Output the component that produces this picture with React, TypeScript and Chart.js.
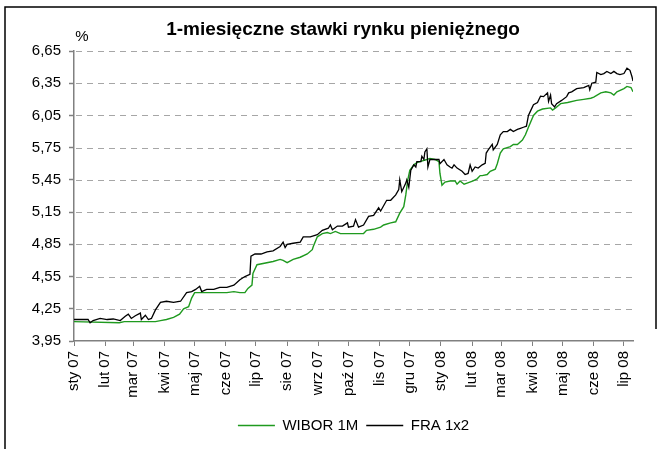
import { useEffect, useRef } from 'react';
import { Chart, registerables } from 'chart.js';

Chart.register(...registerables);

// Month start positions (days since 2007-01-01) and their labels
const monthDays = [0, 31, 59, 90, 120, 151, 181, 212, 243, 273, 304, 334, 365, 396, 425, 456, 486, 517, 547];
const monthLabels = ['sty 07', 'lut 07', 'mar 07', 'kwi 07', 'maj 07', 'cze 07', 'lip 07', 'sie 07', 'wrz 07', 'paź 07', 'lis 07', 'gru 07', 'sty 08', 'lut 08', 'mar 08', 'kwi 08', 'maj 08', 'cze 08', 'lip 08'];
const yTicks = [3.95, 4.25, 4.55, 4.85, 5.15, 5.45, 5.75, 6.05, 6.35, 6.65];

// WIBOR 1M (days since 2007-01-01, %)
const wiborDays = [0, 45, 50, 81, 86, 92, 99, 105, 109, 114, 117, 120, 139, 152, 159, 165, 170, 173, 177, 178, 182, 198, 205, 208, 212, 218, 225, 232, 237, 238, 242, 247, 252, 255, 260, 265, 281, 288, 291, 298, 305, 308, 315, 320, 324, 328, 330, 332, 334, 338, 341, 344, 351, 354, 359, 363, 364, 366, 369, 374, 379, 381, 384, 388, 391, 397, 401, 404, 406, 411, 414, 419, 421, 424, 427, 434, 437, 441, 446, 449, 452, 457, 461, 466, 474, 476, 479, 484, 491, 500, 507, 514, 517, 524, 529, 534, 537, 540, 547, 550, 554, 556];
const wiborVals = [4.13, 4.12, 4.13, 4.13, 4.14, 4.15, 4.17, 4.20, 4.25, 4.27, 4.35, 4.40, 4.40, 4.40, 4.41, 4.40, 4.40, 4.44, 4.47, 4.58, 4.66, 4.69, 4.71, 4.70, 4.68, 4.71, 4.73, 4.76, 4.80, 4.83, 4.92, 4.95, 4.96, 4.95, 4.97, 4.95, 4.95, 4.95, 4.98, 4.99, 5.01, 5.03, 5.05, 5.06, 5.14, 5.20, 5.31, 5.45, 5.54, 5.59, 5.61, 5.62, 5.64, 5.65, 5.64, 5.62, 5.51, 5.40, 5.43, 5.44, 5.44, 5.41, 5.44, 5.41, 5.42, 5.44, 5.46, 5.49, 5.49, 5.50, 5.53, 5.55, 5.60, 5.70, 5.74, 5.76, 5.78, 5.78, 5.82, 5.87, 5.94, 6.05, 6.09, 6.11, 6.12, 6.10, 6.12, 6.16, 6.17, 6.19, 6.20, 6.21, 6.22, 6.26, 6.27, 6.26, 6.24, 6.27, 6.30, 6.32, 6.31, 6.27];

// FRA 1x2 (days since 2007-01-01, %)
const fraDays = [0, 14, 16, 19, 26, 33, 39, 46, 51, 54, 57, 61, 66, 67, 71, 74, 77, 81, 86, 92, 99, 106, 112, 117, 121, 125, 127, 132, 139, 145, 152, 159, 165, 170, 175, 176, 180, 186, 192, 198, 205, 208, 210, 212, 218, 225, 228, 235, 242, 247, 253, 255, 257, 262, 267, 272, 273, 278, 280, 283, 288, 293, 298, 303, 305, 311, 315, 320, 323, 324, 326, 330, 331, 333, 335, 338, 340, 341, 345, 346, 348, 349, 351, 352, 354, 358, 363, 364, 368, 371, 374, 376, 378, 381, 386, 389, 392, 394, 396, 399, 402, 406, 409, 410, 412, 416, 417, 421, 424, 427, 431, 434, 437, 441, 444, 447, 450, 452, 454, 457, 461, 464, 467, 471, 472, 474, 475, 478, 480, 485, 490, 492, 495, 500, 507, 512, 513, 515, 519, 520, 524, 527, 530, 534, 537, 540, 543, 547, 550, 553, 555, 556];
const fraVals = [4.15, 4.15, 4.12, 4.14, 4.16, 4.15, 4.155, 4.14, 4.18, 4.20, 4.16, 4.185, 4.21, 4.15, 4.19, 4.15, 4.16, 4.24, 4.31, 4.32, 4.31, 4.32, 4.40, 4.41, 4.43, 4.46, 4.41, 4.43, 4.43, 4.45, 4.45, 4.47, 4.52, 4.55, 4.57, 4.74, 4.76, 4.76, 4.78, 4.79, 4.83, 4.87, 4.82, 4.85, 4.86, 4.87, 4.92, 4.92, 4.94, 4.98, 5.00, 5.03, 4.985, 5.02, 5.02, 5.05, 5.01, 5.02, 5.08, 5.01, 5.03, 5.11, 5.12, 5.19, 5.16, 5.26, 5.26, 5.31, 5.36, 5.45, 5.34, 5.42, 5.45, 5.38, 5.54, 5.59, 5.57, 5.62, 5.62, 5.67, 5.64, 5.71, 5.74, 5.57, 5.64, 5.64, 5.64, 5.60, 5.64, 5.59, 5.57, 5.56, 5.59, 5.56, 5.53, 5.50, 5.51, 5.59, 5.53, 5.57, 5.56, 5.59, 5.605, 5.70, 5.73, 5.78, 5.73, 5.78, 5.87, 5.90, 5.90, 5.92, 5.90, 5.92, 5.93, 5.94, 5.95, 6.05, 6.09, 6.15, 6.17, 6.23, 6.225, 6.26, 6.18, 6.24, 6.16, 6.13, 6.16, 6.19, 6.225, 6.26, 6.27, 6.30, 6.31, 6.33, 6.29, 6.35, 6.36, 6.45, 6.43, 6.44, 6.46, 6.44, 6.46, 6.44, 6.43, 6.44, 6.49, 6.47, 6.41, 6.37];

const TITLE = '1-miesięczne stawki rynku pieniężnego';
const FONT = "'Liberation Sans', Arial, sans-serif";

const decorPlugin = {
  id: 'decor',
  beforeDraw(chart: any) {
    const ctx = chart.ctx;
    ctx.save();
    ctx.fillStyle = '#ffffff';
    ctx.fillRect(0, 0, chart.width, chart.height);
    ctx.strokeStyle = '#000000';
    ctx.lineWidth = 1.5;
    ctx.beginPath();
    ctx.moveTo(5, 449);
    ctx.lineTo(5, 7);
    ctx.lineTo(656, 7);
    ctx.lineTo(656, 329);
    ctx.stroke();
    ctx.restore();
  },
  beforeDatasetsDraw(chart: any) {
    // dashed horizontal grid lines at the y-axis ticks
    const ctx = chart.ctx;
    const ys = chart.scales.y;
    const area = chart.chartArea;
    ctx.save();
    ctx.strokeStyle = '#a6a6a6';
    ctx.lineWidth = 1;
    ctx.setLineDash([6, 5]);
    yTicks.forEach((v) => {
      if (v === ys.min) return;
      const y = Math.round(ys.getPixelForValue(v)) + 0.5;
      ctx.beginPath();
      ctx.moveTo(area.left + 2, y);
      ctx.lineTo(area.right, y);
      ctx.stroke();
    });
    ctx.restore();
  },
  afterDraw(chart: any) {
    const ctx = chart.ctx;
    ctx.save();
    ctx.fillStyle = '#000000';
    ctx.textAlign = 'center';
    ctx.textBaseline = 'middle';
    ctx.font = `bold 19px ${FONT}`;
    ctx.fillText(TITLE, 343, 30);
    ctx.font = `15px ${FONT}`;
    ctx.fillText('%', 82, 37);
    ctx.restore();
  },
};

export default function App() {
  const ref = useRef<HTMLCanvasElement>(null);
  useEffect(() => {
    if (!ref.current) return;
    const chart = new Chart(ref.current, {
      type: 'line',
      data: {
        datasets: [
          {
            label: 'WIBOR 1M',
            data: wiborDays.map((d, i) => ({ x: d, y: wiborVals[i] })),
            borderColor: '#1f9a1f',
            backgroundColor: '#1f9a1f',
            borderWidth: 1.4,
            pointRadius: 0,
            tension: 0,
            order: 1,
          },
          {
            label: 'FRA 1x2',
            data: fraDays.map((d, i) => ({ x: d, y: fraVals[i] })),
            borderColor: '#000000',
            backgroundColor: '#000000',
            borderWidth: 1.3,
            pointRadius: 0,
            tension: 0,
            order: 0,
          },
        ],
      },
      options: {
        animation: false,
        responsive: false,
        devicePixelRatio: 1,
        layout: { padding: { top: 51, right: 31, left: 0, bottom: 6 } },
        scales: {
          x: {
            type: 'linear',
            min: 0,
            max: 556,
            afterBuildTicks: (scale: any) => {
              scale.ticks = monthDays.map((v) => ({ value: v }));
            },
            afterFit: (scale: any) => {
              scale.height = 69;
            },
            ticks: {
              autoSkip: false,
              minRotation: 90,
              maxRotation: 90,
              padding: 5,
              color: '#000000',
              font: { family: FONT, size: 15 },
              callback: (_v: any, i: number) => monthLabels[i],
            },
            grid: {
              drawOnChartArea: false,
              drawTicks: true,
              tickLength: 5,
              tickColor: '#808080',
            },
            border: { display: true, color: '#808080', width: 1.5 },
          },
          y: {
            type: 'linear',
            min: 3.95,
            max: 6.65,
            afterBuildTicks: (scale: any) => {
              scale.ticks = yTicks.map((v) => ({ value: v }));
            },
            afterFit: (scale: any) => {
              scale.width = 74;
            },
            ticks: {
              padding: 8,
              color: '#000000',
              font: { family: FONT, size: 15 },
              callback: (v: any) => Number(v).toFixed(2).replace('.', ','),
            },
            grid: {
              drawOnChartArea: false,
              drawTicks: true,
              tickLength: 5,
              tickColor: '#808080',
              tickWidth: 1.5,
            },
            border: { display: true, color: '#808080', width: 1.5 },
          },
        },
        plugins: {
          legend: {
            position: 'bottom',
            fullSize: false,
            labels: {
              boxWidth: 37,
              boxHeight: 0,
              padding: 8,
              color: '#000000',
              font: { family: FONT, size: 15 },
              sort: (a: any, b: any) => a.datasetIndex - b.datasetIndex,
            },
          },
          title: { display: false },
          tooltip: { enabled: false },
        },
      },
      plugins: [decorPlugin],
    } as any);
    return () => chart.destroy();
  }, []);
  return (
    <div style={{ position: 'fixed', left: 0, top: 0, width: 664, height: 449, background: '#fff' }}>
      <canvas ref={ref} width={664} height={449} style={{ width: 664, height: 449, display: 'block' }} />
    </div>
  );
}
